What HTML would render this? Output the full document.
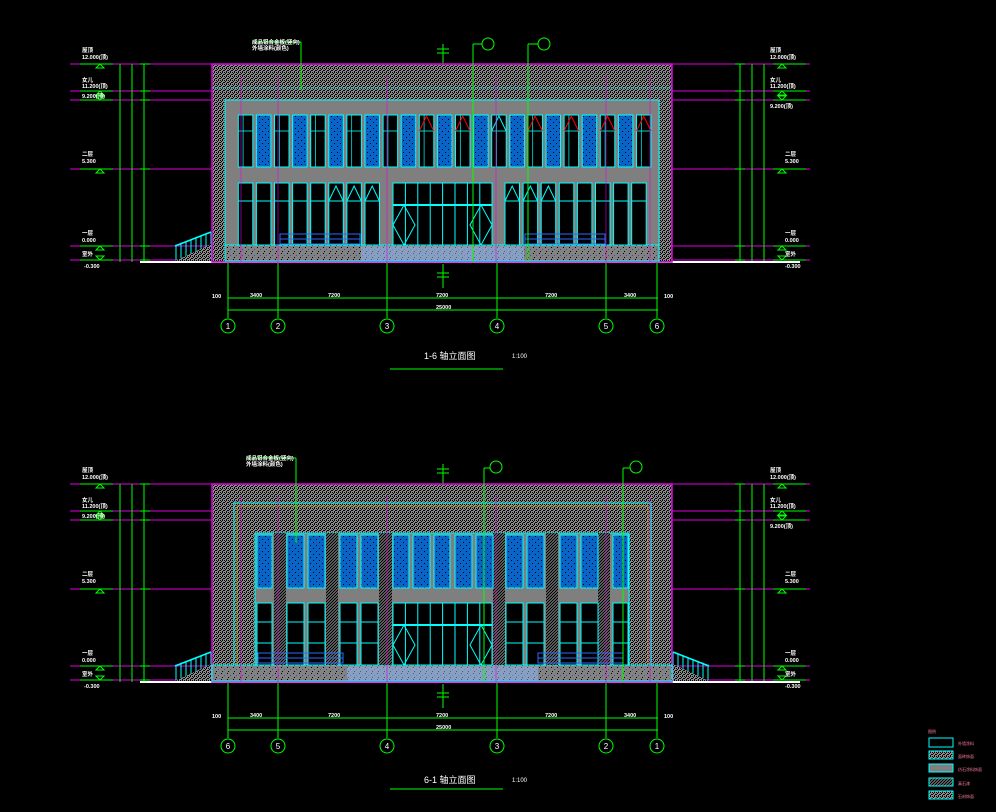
<!DOCTYPE html>
<html><head><meta charset="utf-8"><style>
html,body{margin:0;padding:0;background:#000;}
svg{display:block}
text{font-family:"Liberation Sans","Noto Sans CJK SC",sans-serif;fill:#fff;}
</style></head><body>
<svg id="s" width="996" height="812" viewBox="0 0 996 812" xmlns="http://www.w3.org/2000/svg">
<defs>
<pattern id="h" width="4" height="4" patternUnits="userSpaceOnUse">
<rect width="4" height="4" fill="#8a8a8a"/><rect x="0" y="0" width="1" height="1" fill="#000"/><rect x="2" y="0" width="1" height="1" fill="#000"/><rect x="1" y="1" width="1" height="1" fill="#000"/><rect x="3" y="2" width="1" height="1" fill="#000"/><rect x="0" y="2" width="1" height="1" fill="#000"/><rect x="2" y="3" width="1" height="1" fill="#000"/>
</pattern>
<pattern id="d" width="3" height="3" patternUnits="userSpaceOnUse">
<rect width="3" height="3" fill="#5a5a5a"/><rect x="0" y="0" width="1" height="1" fill="#000"/><rect x="2" y="1" width="1" height="1" fill="#000"/><rect x="1" y="2" width="1" height="1" fill="#000"/>
</pattern>
<pattern id="b" width="6" height="6" patternUnits="userSpaceOnUse">
<rect width="6" height="6" fill="#0a64c8"/><rect x="1" y="2" width="1" height="1" fill="#000"/><rect x="4" y="5" width="1" height="1" fill="#000"/>
</pattern>
<pattern id="g" width="6" height="6" patternUnits="userSpaceOnUse">
<rect width="6" height="6" fill="#828282"/><rect x="2" y="3" width="1" height="1" fill="#2a4fa0"/><rect x="5" y="1" width="1" height="1" fill="#000"/><rect x="0" y="5" width="1" height="1" fill="#000"/>
</pattern>
</defs>
<g id="art"></g>
<g font-size="5.5" font-weight="bold">
<text x="82" y="52">屋顶</text><text x="82" y="59">12.000(顶)</text>
<text x="82" y="82">女儿</text><text x="82" y="88">11.200(顶)</text>
<text x="82" y="98">9.200(顶)</text>
<text x="82" y="156">二层</text><text x="82" y="163">5.300</text>
<text x="82" y="235">一层</text><text x="82" y="242">0.000</text>
<text x="82" y="256">室外</text><text x="84" y="268">-0.300</text>
<text x="770" y="52">屋顶</text><text x="770" y="59">12.000(顶)</text>
<text x="770" y="82">女儿</text><text x="770" y="88">11.200(顶)</text>
<text x="770" y="108">9.200(顶)</text>
<text x="785" y="156">二层</text><text x="785" y="163">5.300</text>
<text x="785" y="235">一层</text><text x="785" y="242">0.000</text>
<text x="785" y="256">室外</text><text x="785" y="268">-0.300</text>
<text x="252" y="44">成品铝合金板(竖向)</text><text x="252" y="50">外墙涂料(颜色)</text>
<text x="212" y="298">100</text><text x="250" y="297">3400</text><text x="328" y="297">7200</text><text x="436" y="297">7200</text><text x="545" y="297">7200</text><text x="624" y="297">3400</text><text x="664" y="298">100</text>
<text x="436" y="309">25000</text>
</g>
<g font-size="5.5" font-weight="bold">
<text x="82" y="472">屋顶</text><text x="82" y="479">12.000(顶)</text>
<text x="82" y="502">女儿</text><text x="82" y="508">11.200(顶)</text>
<text x="82" y="518">9.200(顶)</text>
<text x="82" y="576">二层</text><text x="82" y="583">5.300</text>
<text x="82" y="655">一层</text><text x="82" y="662">0.000</text>
<text x="82" y="676">室外</text><text x="84" y="688">-0.300</text>
<text x="770" y="472">屋顶</text><text x="770" y="479">12.000(顶)</text>
<text x="770" y="502">女儿</text><text x="770" y="508">11.200(顶)</text>
<text x="770" y="528">9.200(顶)</text>
<text x="785" y="576">二层</text><text x="785" y="583">5.300</text>
<text x="785" y="655">一层</text><text x="785" y="662">0.000</text>
<text x="785" y="676">室外</text><text x="785" y="688">-0.300</text>
<text x="246" y="460">成品铝合金板(竖向)</text><text x="246" y="466">外墙涂料(颜色)</text>
<text x="212" y="718">100</text><text x="250" y="717">3400</text><text x="328" y="717">7200</text><text x="436" y="717">7200</text><text x="545" y="717">7200</text><text x="624" y="717">3400</text><text x="664" y="718">100</text>
<text x="436" y="729">25000</text>
</g>
<g font-size="8" text-anchor="middle">
<text x="228" y="329">1</text><text x="278" y="329">2</text><text x="387" y="329">3</text><text x="497" y="329">4</text><text x="606" y="329">5</text><text x="657" y="329">6</text>
<text x="228" y="749">6</text><text x="278" y="749">5</text><text x="387" y="749">4</text><text x="497" y="749">3</text><text x="606" y="749">2</text><text x="657" y="749">1</text>
</g>
<text x="424" y="359" font-size="9">1-6 轴立面图</text><text x="512" y="358" font-size="6">1:100</text>
<text x="424" y="783" font-size="9">6-1 轴立面图</text><text x="512" y="782" font-size="6">1:100</text>
<g font-size="4">
<text x="928" y="733" style="fill:#ff7f9f">图例</text>
<text x="958" y="745" style="fill:#ff7f9f">外墙涂料</text>
<text x="958" y="758" style="fill:#ff7f9f">面砖饰面</text>
<text x="958" y="771" style="fill:#ff7f9f">仿石涂料饰面</text>
<text x="958" y="785" style="fill:#ff7f9f">真石漆</text>
<text x="958" y="798" style="fill:#ff7f9f">石材饰面</text>
</g>
</svg>
<script>
var A=document.getElementById('art'),h='';
function R(x,y,w,hh,f,s,sw){h+='<rect x="'+x+'" y="'+y+'" width="'+w+'" height="'+hh+'" fill="'+(f||'none')+'"'+(s?' stroke="'+s+'" stroke-width="'+(sw||1)+'"':'')+'/>';}
function L(x1,y1,x2,y2,s,sw){h+='<line x1="'+x1+'" y1="'+y1+'" x2="'+x2+'" y2="'+y2+'" stroke="'+s+'" stroke-width="'+(sw||1)+'"/>';}
function C(x,y,r,s){h+='<circle cx="'+x+'" cy="'+y+'" r="'+r+'" fill="none" stroke="'+s+'" stroke-width="1"/>';}
var G='#00ff00',P='#e000e0',Cy='#00ffff';
function common(o){
 [64,91,100,169,246,260].forEach(function(y){L(70,y+o,212,y+o,P);L(672,y+o,810,y+o,P);});
 [120,132,144,740,752,764].forEach(function(x){L(x,64+o,x,262+o,G);});
 [64,91,100,169,246,260].forEach(function(y){L(140,y+o,150,y+o,G);L(735,y+o,745,y+o,G);});
 [[64,0],[91,0],[100,1],[169,0],[246,0],[260,1]].forEach(function(a){var y=a[0]+o;
  L(80,y,113,y,G);L(773,y,806,y,G);
  var d=a[1]?-4:4;
  h+='<path d="M100 '+y+' l-4 '+(d)+' h8 z" fill="none" stroke="'+G+'"/>';
  h+='<path d="M782 '+y+' l-4 '+(d)+' h8 z" fill="none" stroke="'+G+'"/>';});
 R(140,261+o,660,2,'#fff');
 L(228,298+o,658,298+o,G);L(228,310+o,658,310+o,G);
 [228,278,387,497,606,657].forEach(function(x){L(x,262+o,x,318+o,G);C(x,326+o,7,G);});
 L(390,369+o,503,369+o,G);
 L(443,44+o,443,262+o,G);L(437,49+o,449,49+o,G);L(437,53+o,449,53+o,G);
 L(443,264+o,443,288+o,G);L(437,273+o,449,273+o,G);L(437,277+o,449,277+o,G);
}
function stair(x0,dir,o){for(var i=0;i<8;i++){var x=x0+dir*i*5;L(x,232+o+i*1.8,x,260+o,Cy);}
  h+='<path d="M'+x0+' '+(232+o)+' L'+(x0+dir*36)+' '+(246+o)+'" stroke="'+Cy+'" stroke-width="1.5"/>';
  h+='<path d="M'+x0+' '+(244+o)+' L'+x0+' '+(261+o)+' L'+(x0+dir*36)+' '+(261+o)+' Z" fill="url(#h)"/>';}
// TOP
common(0);stair(211,-1,0);
R(212,64,460,198,'url(#h)',P,1.5);
L(212,88,672,88,Cy,0.5);
R(225,100,434,145,'#7f7f7f',Cy,1);
R(225,245,434,16,'url(#g)',Cy,1);
for(var i=0;i<14;i++)L(361,247+i,524,247+i,i%2?'#6aa8ff':'#b0d0ff',0.6);
for(var i=0;i<23;i++){var x=238.3+i*18.1;var blue=i%2==1;
 R(x,115,14.5,52,blue?'url(#b)':'#000',Cy,1);
 if(!blue){L(x+4.8,115,x+4.8,167,Cy,0.7);L(x,131,x+14.5,131,Cy,0.8);
  if(i>=10&&i!=14){h+='<path d="M'+x+' 131 L'+(x+7.2)+' 116 L'+(x+14.5)+' 131" fill="none" stroke="#ff0000"/>';}}
}
h+='<path d="M'+(238.3+14*18.1)+' 131 l7.2 -15 l7.2 15" fill="none" stroke="'+Cy+'"/>';
function lowwin(x,y1,y2,v){R(x,y1,14.5,y2-y1,'#000',Cy,1);L(x,y1+18,x+14.5,y1+18,Cy,1);if(v)h+='<path d="M'+x+' '+(y1+18)+' l7.2 -15 l7.2 15" fill="none" stroke="'+Cy+'"/>';}
for(var i=0;i<8;i++)lowwin(238.3+i*18.1,183,245,i>=5);
for(var i=0;i<8;i++)lowwin(505+i*18.1,183,245,i<3);
R(393,183,99,62,'#000',Cy,1);L(393,205,492,205,Cy,2);
for(var i=1;i<8;i++)L(393+i*12.4,183,393+i*12.4,245,Cy,1);
h+='<path d="M393 225 l11 -20 l11 20 l-11 20z M470 225 l11 -20 l11 20 l-11 20z" fill="none" stroke="'+Cy+'"/>';
for(var k=0;k<2;k++){var x0=k?525:280;R(x0,234,80,10,'none','#2a6aff',1);L(x0,239,x0+80,239,'#2a6aff',1);}
[241,278,387,496,606,650].forEach(function(x){L(x,75,x,262,P,0.6);});
L(301,42,301,90,G);L(252,42,301,42,G);
L(473,44,473,262,G);C(488,44,6,G);L(473,44,482,44,G);
L(528,44,528,262,G);C(544,44,6,G);L(528,44,538,44,G);
// BOTTOM
var o=420;common(o);stair(211,-1,o);stair(673,1,o);
R(212,484,460,198,'url(#h)',P,1.5);
R(234,503,417,162,'none',Cy,1);R(237,506,411,159,'none','#ffcc00',0.5);
R(255,533,374,132,'#7f7f7f',Cy,1);
R(212,665,460,16,'url(#g)',Cy,1);
for(var i=0;i<14;i++)L(347,667+i,538,667+i,i%2?'#6aa8ff':'#b0d0ff',0.6);
[[274,12],[326,12],[379,13],[493,12],[546,12],[598,12]].forEach(function(a){R(a[0],533,a[1],132,'url(#d)');});
var bw=[[257,15],[287,17],[308,17],[340,17],[361,17],[393,16],[413,17],[434,16],[455,17],[476,17],[506,17],[527,17],[560,17],[581,17],[613,15]];
bw.forEach(function(a){R(a[0],535,a[1],53,'url(#b)',Cy,1);});
[[257,15],[287,17],[308,17],[340,17],[361,17],[506,17],[527,17],[560,17],[581,17],[613,15]].forEach(function(a){R(a[0],603,a[1],62,'#000',Cy,1);L(a[0],622,a[0]+a[1],622,Cy,1);L(a[0],643,a[0]+a[1],643,Cy,1);});
R(393,603,99,62,'#000',Cy,1);L(393,625,492,625,Cy,2);
for(var i=1;i<8;i++)L(393+i*12.4,603,393+i*12.4,665,Cy,1);
h+='<path d="M393 645 l11 -20 l11 20 l-11 20z M470 645 l11 -20 l11 20 l-11 20z" fill="none" stroke="'+Cy+'"/>';
for(var k=0;k<2;k++){var x0=k?538:258;R(x0,653,85,10,'none','#2a6aff',1);L(x0,658,x0+85,658,'#2a6aff',1);}
[241,278,387,496,606,650].forEach(function(x){L(x,495,x,682,P,0.6);});
L(296,458,296,543,G);L(246,458,296,458,G);
L(484,468,484,682,G);C(496,467,6,G);L(484,468,490,468,G);
L(623,468,623,682,G);C(636,467,6,G);L(623,468,630,468,G);
R(929,738,24,9,'none',Cy,1);R(929,751,24,8,'url(#h)',Cy,1);R(929,764,24,8,'#808080',Cy,1);R(929,778,24,8,'url(#d)',Cy,1);R(929,791,24,8,'url(#h)',Cy,1);
A.innerHTML=h;
</script>
</body></html>
